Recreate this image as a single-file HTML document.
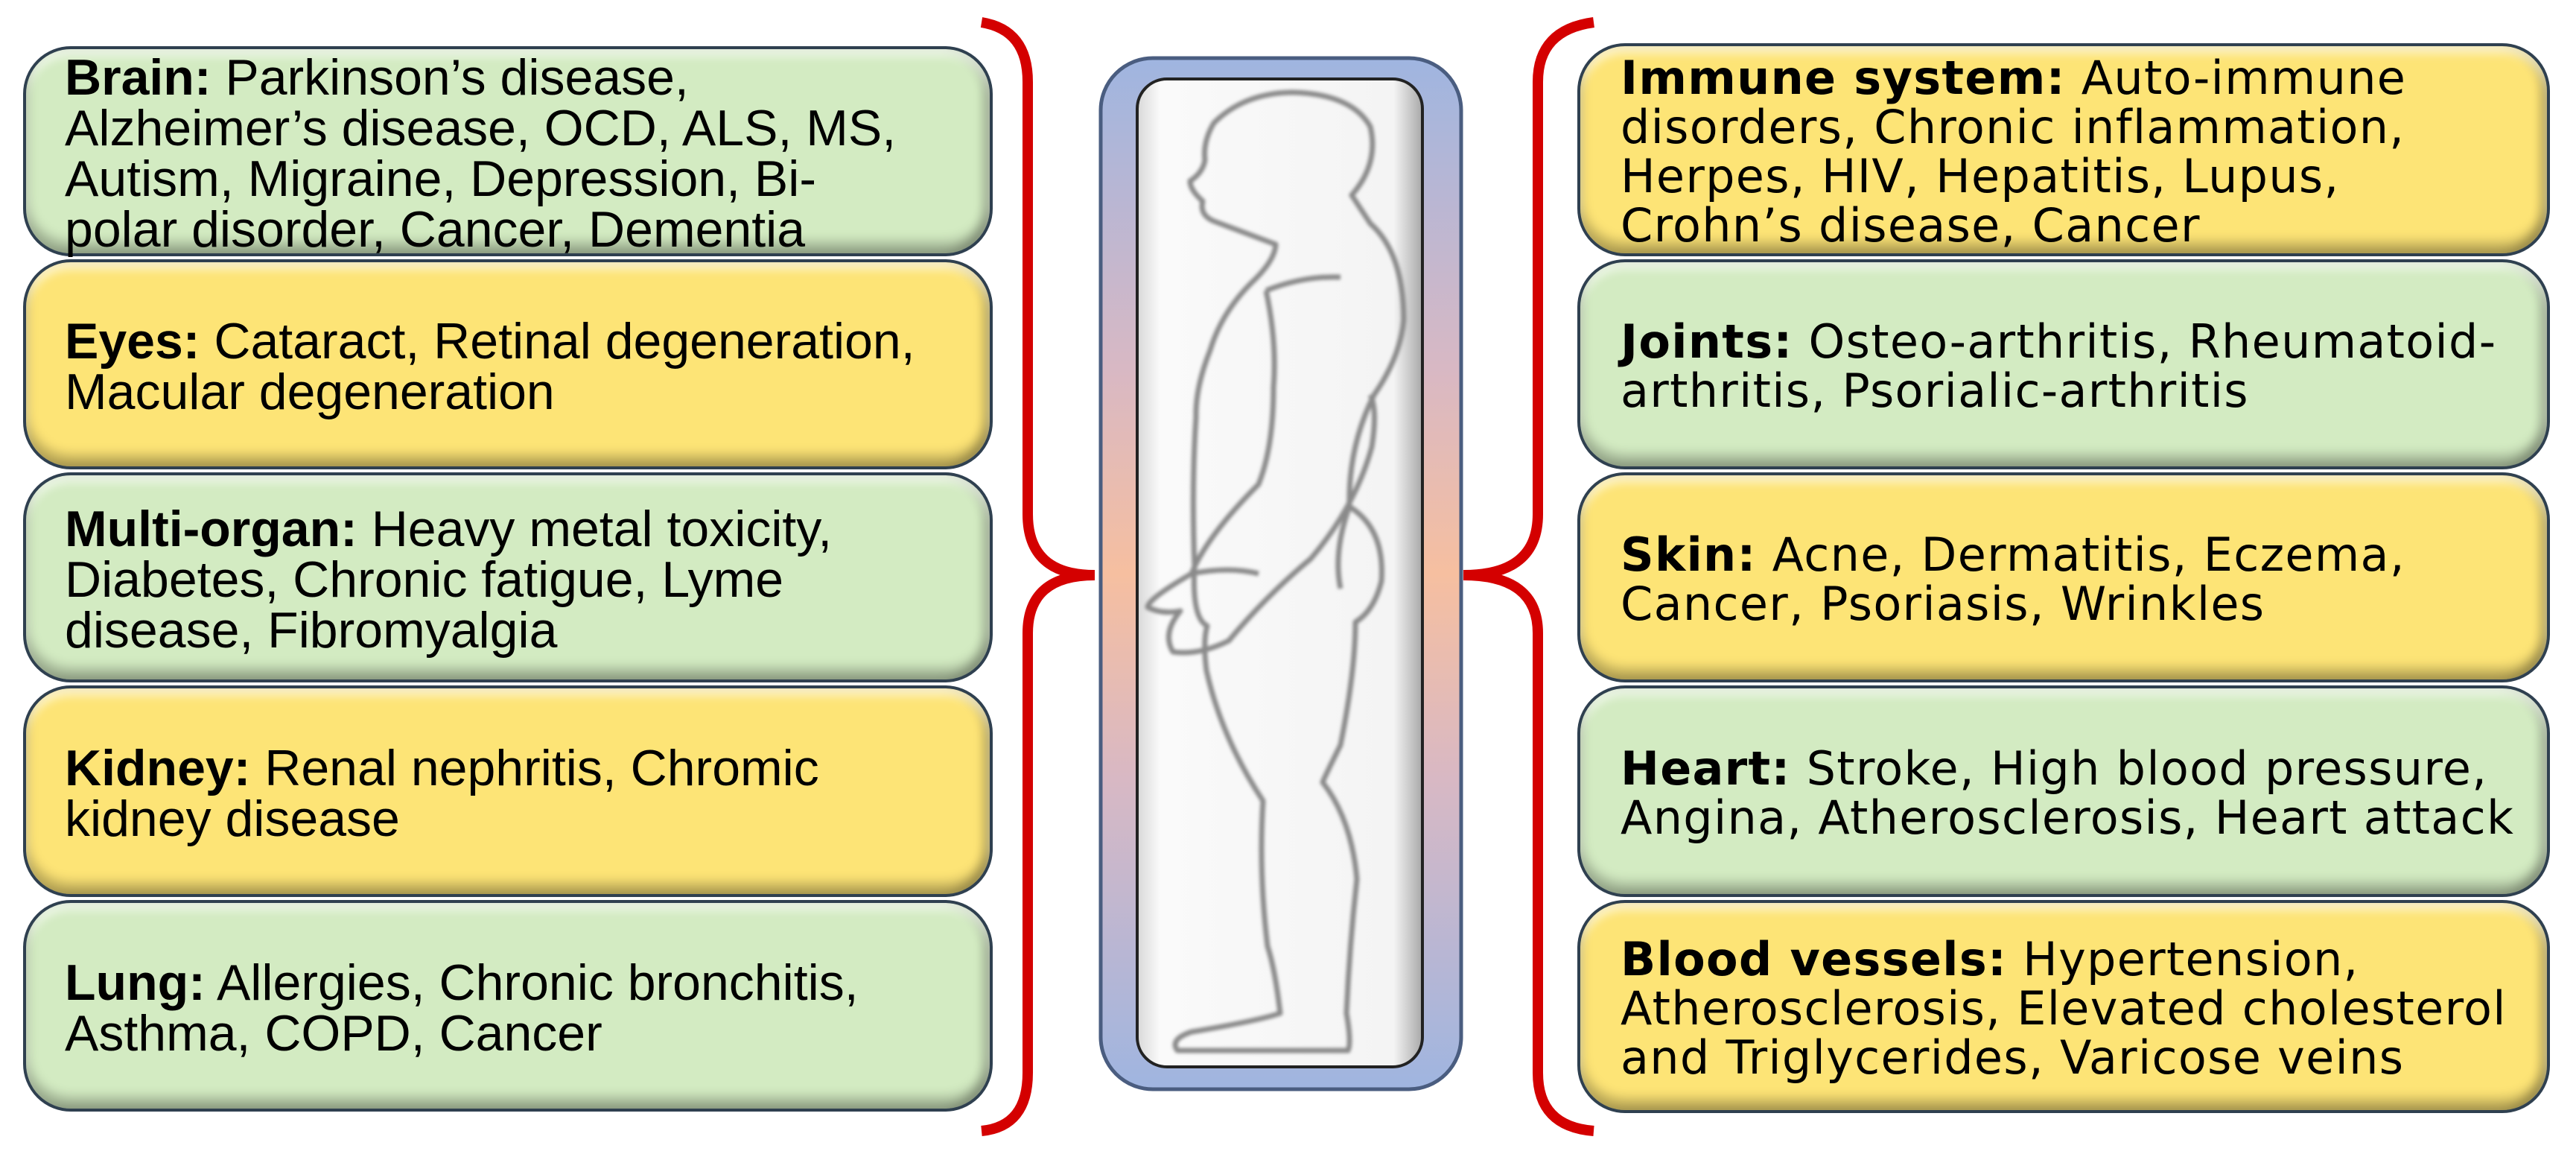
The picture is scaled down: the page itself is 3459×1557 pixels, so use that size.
<!DOCTYPE html>
<html><head><meta charset="utf-8"><style>
html,body{margin:0;padding:0;background:#fff;}
body{width:3459px;height:1557px;position:relative;overflow:hidden;}
.box{position:absolute;border:4px solid #2f4050;border-radius:64px;box-sizing:border-box;
 box-shadow:inset 0 -14px 16px rgba(0,0,0,0.28), inset 0 10px 12px rgba(255,255,255,0.6), inset -10px 0 12px rgba(0,0,0,0.18);}
.g{background:#d3ebc2;}
.y{background:#fde476;}
.t{position:absolute;left:52px;right:5px;top:6px;bottom:0;display:flex;flex-direction:column;justify-content:center;white-space:nowrap;color:#000;}
.L .t{font-family:"Liberation Sans",sans-serif;font-size:68px;line-height:68px;}
.R .t{font-family:"DejaVu Sans","Liberation Sans",sans-serif;font-size:62px;line-height:66px;left:54px;letter-spacing:1.3px;}
b{font-weight:bold;}
</style></head><body>
<svg width="3459" height="1557" style="position:absolute;left:0;top:0">
<defs>
<linearGradient id="fr" x1="0" x2="0" y1="0" y2="1">
<stop offset="0" stop-color="#9fb5e0"/><stop offset="0.3" stop-color="#d8b8c4"/><stop offset="0.5" stop-color="#f6bfa0"/><stop offset="0.7" stop-color="#d8b8c4"/><stop offset="1" stop-color="#9fb5e0"/></linearGradient>
<linearGradient id="inn" x1="0" x2="1"><stop offset="0" stop-color="#d8d8d8"/><stop offset="0.08" stop-color="#fafafa"/><stop offset="0.9" stop-color="#f4f4f4"/><stop offset="1" stop-color="#a8a8a8"/></linearGradient>
<filter id="bl"><feGaussianBlur stdDeviation="2"/></filter>
</defs>
<path d="M1318 30 Q1380 40 1380 110 L1380 690 Q1380 772 1470 772 M1470 772 Q1380 772 1380 850 L1380 1440 Q1380 1512 1318 1518" fill="none" stroke="#d40000" stroke-width="14"/>
<path d="M2140 30 Q2065 40 2065 110 L2065 690 Q2065 772 1965 772 M1965 772 Q2065 772 2065 850 L2065 1440 Q2065 1512 2140 1518" fill="none" stroke="#d40000" stroke-width="14"/>
<rect x="1478" y="78" width="484" height="1384" rx="70" fill="url(#fr)" stroke="#4a5d80" stroke-width="5"/>
<rect x="1527" y="106" width="383" height="1326" rx="40" fill="url(#inn)" stroke="#222" stroke-width="4"/>
<g fill="none" stroke="#8a8a8a" stroke-width="7" filter="url(#bl)" stroke-linejoin="round">
<path d="M1633 298 Q1610 290 1615 270 Q1598 255 1598 243 Q1615 232 1618 215 Q1615 190 1630 165 Q1670 125 1735 124 Q1815 126 1840 170 Q1852 220 1815 262 L1840 300 Q1885 340 1885 430 Q1880 480 1845 530 Q1810 600 1812 680 Q1860 710 1855 780 Q1845 820 1820 835 Q1820 900 1800 1000 Q1780 1040 1776 1050 Q1815 1100 1822 1180 Q1812 1270 1808 1360 Q1815 1400 1810 1410 L1581 1410 Q1570 1395 1600 1385 Q1690 1370 1719 1360 Q1712 1300 1702 1270 Q1690 1170 1696 1075 Q1640 990 1620 900 Q1615 860 1621 840 Q1600 830 1604 760 Q1600 650 1606 560 Q1605 520 1625 470 Q1640 420 1680 380 Q1712 350 1713 328 Z"/>
<path d="M1700 390 Q1750 370 1800 372 M1700 390 Q1715 460 1710 520 Q1710 600 1690 650 Q1620 720 1600 770 Q1540 805 1541 815 Q1560 825 1585 820 Q1560 850 1575 875 Q1610 880 1650 860 Q1700 800 1760 750 Q1820 680 1842 600 Q1850 550 1840 530"/>
<path d="M1600 770 Q1650 760 1690 770 M1812 680 Q1790 740 1800 790"/>
</g>
</svg>
<div class="L">
<div class="box g" style="left:31px;top:62px;width:1302px;height:282px"><div class="t"><div><b>Brain:</b> Parkinson’s disease,</div><div>Alzheimer’s disease, OCD, ALS, MS,</div><div>Autism, Migraine, Depression, Bi-</div><div>polar disorder, Cancer, Dementia</div></div></div>
<div class="box y" style="left:31px;top:348px;width:1302px;height:282px"><div class="t"><div><b>Eyes:</b> Cataract, Retinal degeneration,</div><div>Macular degeneration</div></div></div>
<div class="box g" style="left:31px;top:634px;width:1302px;height:282px"><div class="t"><div><b>Multi-organ:</b> Heavy metal toxicity,</div><div>Diabetes, Chronic fatigue, Lyme</div><div>disease, Fibromyalgia</div></div></div>
<div class="box y" style="left:31px;top:920px;width:1302px;height:284px"><div class="t"><div><b>Kidney:</b> Renal nephritis, Chromic</div><div>kidney disease</div></div></div>
<div class="box g" style="left:31px;top:1208px;width:1302px;height:284px"><div class="t"><div><b>Lung:</b> Allergies, Chronic bronchitis,</div><div>Asthma, COPD, Cancer</div></div></div>
</div>
<div class="R">
<div class="box y" style="left:2118px;top:58px;width:1306px;height:286px"><div class="t"><div><b>Immune system:</b> Auto-immune</div><div>disorders, Chronic inflammation,</div><div>Herpes, HIV, Hepatitis, Lupus,</div><div>Crohn’s disease, Cancer</div></div></div>
<div class="box g" style="left:2118px;top:348px;width:1306px;height:282px"><div class="t"><div><b>Joints:</b> Osteo-arthritis, Rheumatoid-</div><div>arthritis, Psorialic-arthritis</div></div></div>
<div class="box y" style="left:2118px;top:634px;width:1306px;height:282px"><div class="t"><div><b>Skin:</b> Acne, Dermatitis, Eczema,</div><div>Cancer, Psoriasis, Wrinkles</div></div></div>
<div class="box g" style="left:2118px;top:920px;width:1306px;height:284px"><div class="t"><div><b>Heart:</b> Stroke, High blood pressure,</div><div>Angina, Atherosclerosis, Heart attack</div></div></div>
<div class="box y" style="left:2118px;top:1208px;width:1306px;height:286px"><div class="t"><div><b>Blood vessels:</b> Hypertension,</div><div>Atherosclerosis, Elevated cholesterol</div><div>and Triglycerides, Varicose veins</div></div></div>
</div>
</body></html>
